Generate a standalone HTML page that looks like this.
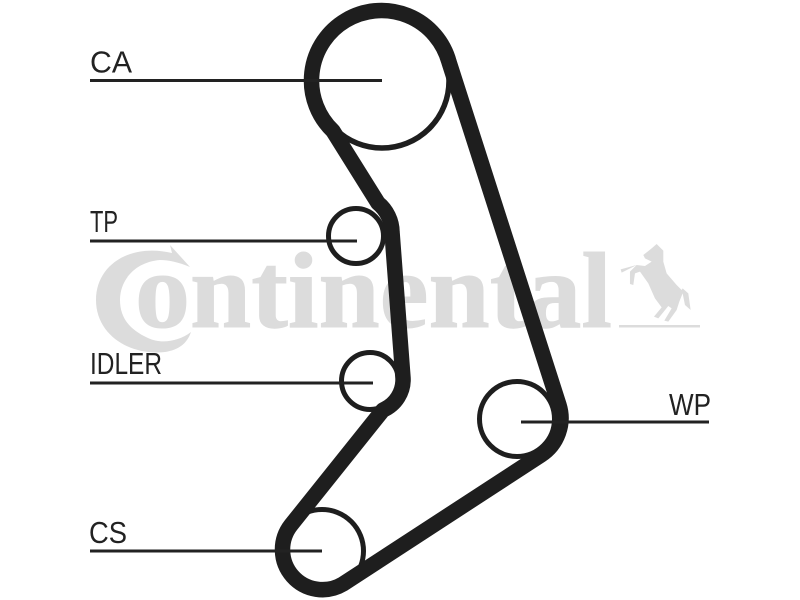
<!DOCTYPE html>
<html>
<head>
<meta charset="utf-8">
<style>
html,body{margin:0;padding:0;background:#fff;width:800px;height:600px;overflow:hidden}
svg{display:block}
</style>
</head>
<body>
<svg width="800" height="600" viewBox="0 0 800 600" xmlns="http://www.w3.org/2000/svg">
<rect width="800" height="600" fill="#fff"/>
<!-- logo -->
<g fill="#dcdcdc">
<path d="M190,267 L170,245 L172,253 C130,243 96,265 96,300 C96,335 130,356 165,352 C178,350 187,344 191,332 C178,342 160,344 148,338 C130,330 120,318 120,300 C120,280 135,262 160,260 C168,260 178,262 190,267 Z"/>
<text x="135" y="327" font-family="'Liberation Serif',serif" font-weight="bold" font-size="108" textLength="477" lengthAdjust="spacingAndGlyphs" stroke="#dcdcdc" stroke-width="1">ontinental</text>
<g transform="translate(400,230) scale(0.3333)">
<polygon points="770,42 790,62 790,95 800,130 830,165 845,180 848,175 865,190 872,240 855,225 848,190 838,215 830,240 805,275 793,272 815,235 805,228 775,265 762,260 785,232 765,205 745,160 720,125 705,130 700,165 690,162 690,125 710,105 665,128 662,118 710,105 735,108 755,95 735,85 730,75 755,55"/>
</g>
<rect x="619" y="325" width="81" height="2.5"/>
</g>
<!-- pulleys -->
<g fill="none" stroke="#1e1e1e">
<circle cx="382" cy="81" r="67" stroke-width="5.5"/>
<circle cx="356" cy="236" r="27.5" stroke-width="5"/>
<circle cx="370" cy="381" r="28.5" stroke-width="5"/>
<circle cx="517" cy="419" r="37.5" stroke-width="5"/>
<circle cx="322" cy="551" r="41.5" stroke-width="5"/>
<!-- belt -->
<path stroke-width="15.5" stroke-linejoin="round" d="M449,62 A70,70 0 1 0 333,131 L378,203 A38,38 0 0 1 392,232 L403,378 A33,33 0 0 1 383,410 L291,525 A40,40 0 0 0 343,584 L541,455 A44,44 0 0 0 559,405 Z"/>
</g>
<!-- leader lines -->
<g stroke="#222" stroke-width="3" fill="none">
<line x1="90" y1="80.5" x2="382" y2="80.5"/>
<line x1="90" y1="241" x2="357" y2="241"/>
<line x1="90" y1="383" x2="373" y2="383"/>
<line x1="90" y1="551" x2="322" y2="551"/>
<line x1="521" y1="422" x2="709" y2="422"/>
</g>
<!-- labels -->
<g font-family="'Liberation Sans',sans-serif" font-size="31" fill="#222">
<text x="90" y="72.5" textLength="42" lengthAdjust="spacingAndGlyphs">CA</text>
<text x="90" y="232" textLength="28" lengthAdjust="spacingAndGlyphs">TP</text>
<text x="90" y="374" textLength="72" lengthAdjust="spacingAndGlyphs">IDLER</text>
<text x="89" y="543" textLength="38" lengthAdjust="spacingAndGlyphs">CS</text>
<text x="669" y="415" textLength="42" lengthAdjust="spacingAndGlyphs">WP</text>
</g>
</svg>
</body>
</html>
